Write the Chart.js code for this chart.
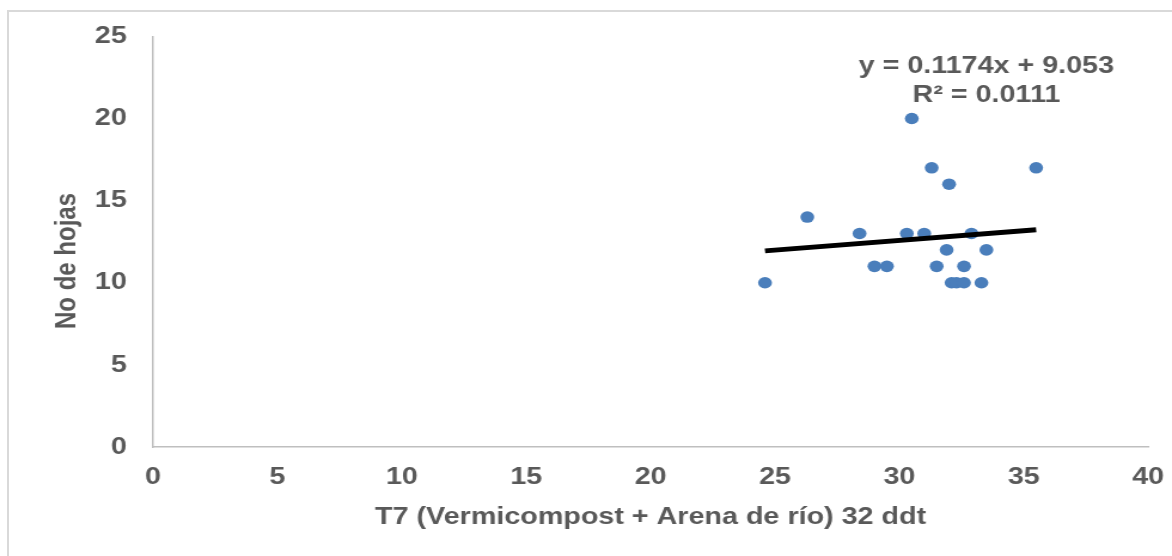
<!DOCTYPE html>
<html>
<head>
<meta charset="utf-8">
<script src="https://cdn.jsdelivr.net/npm/chart.js@4.4.0/dist/chart.umd.min.js"></script>
<style>
  html, body { margin: 0; padding: 0; background: #fff; overflow: hidden; }
  #wrap { position: relative; width: 1172px; height: 556px; overflow: hidden; }
  #graphicFirst { position: absolute; left: 0; top: 0; }
  #frame { position: absolute; left: 7px; top: 10px; width: 1200px; height: 600px;
           border-top: 2px solid #d9d9d9; border-left: 2px solid #d9d9d9; pointer-events: none; }
</style>
</head>
<body>
<div id="wrap">
  <!-- the original picture is stretched sideways, so the canvas is too -->
  <canvas id="graphicFirst" width="980" height="556" style="width:1172px;height:556px"></canvas>
  <div id="frame"></div>
</div>
<script>
// Dispersion No de hojas vs T7 32 ddt

// ---DATA
const valuesX = [24.6, 26.3, 28.4, 29.0, 29.5, 30.5, 30.3, 31.0, 31.3, 31.9, 31.5,
                 32.0, 32.1, 32.3, 32.6, 32.6, 32.9, 33.5, 33.3, 35.5];
const valuesY = [10, 14, 13, 11, 11, 20, 13, 13, 17, 12, 11,
                 16, 10, 10, 10, 11, 13, 12, 10, 17];
const trendSlope = 0.1174;
const trendIntercept = 9.053;
const eqLabels = ['y = 0.1174x + 9.053', 'R\u00b2 = 0.0111'];
const xTitle = 'T7 (Vermicompost + Arena de r\u00edo) 32 ddt';
const yTitle = 'No de hojas';

const textColor = '#595959';
const axisColor = '#bfbfbf';
const fontFam = "'Liberation Sans', Arial, sans-serif";

let points = valuesX.map((x, i) => ({x: x, y: valuesY[i]}));
let xMin = Math.min(...valuesX);
let xMax = Math.max(...valuesX);
let trendData = [
  {x: xMin, y: trendSlope * xMin + trendIntercept},
  {x: xMax, y: trendSlope * xMax + trendIntercept}
];

//---PLUGIN: y title + equation
const extraText = {
  id: 'extraText',
  afterDraw(chart){
    const ctx = chart.ctx;
    const sx = chart.scales.x, sy = chart.scales.y;
    ctx.save();
    ctx.fillStyle = textColor;
    ctx.font = 'bold 24px ' + fontFam;
    ctx.textAlign = 'center';
    ctx.textBaseline = 'middle';
    // equation of the trendline
    ctx.fillText(eqLabels[0], sx.getPixelForValue(33.5), sy.getPixelForValue(23.2));
    ctx.fillText(eqLabels[1], sx.getPixelForValue(33.5), sy.getPixelForValue(21.4));
    // y axis title
    ctx.translate(56, 261);
    ctx.rotate(-Math.PI / 2);
    ctx.fillText(yTitle, 0, 0);
    ctx.restore();
  }
};

let chart1;
function drawFirstElement(){
  var ctx = document.getElementById('graphicFirst').getContext('2d');
  if (chart1) {
    chart1.destroy();
  }
  chart1 = new Chart(ctx, {
    type: 'scatter',
    data: {
      datasets: [
        {
          type: 'line',
          data: trendData,
          borderColor: '#000000',
          borderWidth: 5,
          pointRadius: 0,
          fill: false,
          order: 0
        },
        {
          data: points,
          backgroundColor: '#4a7ebb',
          borderWidth: 0,
          pointRadius: 5.8,
          pointHoverRadius: 5.8,
          order: 1
        }
      ]
    },
    plugins: [extraText],
    options: {
      responsive: false,
      animation: false,
      devicePixelRatio: 1,
      layout: { padding: { left: 0, top: 34, right: 20, bottom: 0 } },
      plugins: { legend: { display: false }, tooltip: { enabled: false } },
      scales: {
        x: {
          type: 'linear',
          min: 0, max: 40,
          afterFit: (s) => { s.height = 109; s.paddingLeft = 0; s.paddingRight = 0; },
          grid: { color: 'rgba(0,0,0,0)', drawTicks: false },
          border: { display: true, color: axisColor, width: 1.5 },
          ticks: { stepSize: 5, padding: 16, color: textColor, maxRotation: 0,
                   font: { family: fontFam, size: 24, weight: 'bold' } },
          title: { display: true, text: xTitle, color: textColor,
                   padding: { top: 0, bottom: 24 },
                   font: { family: fontFam, size: 24, weight: 'bold' } }
        },
        y: {
          min: 0, max: 25,
          afterFit: (s) => { s.width = 128; },
          grid: { color: 'rgba(0,0,0,0)', drawTicks: false },
          border: { display: true, color: axisColor, width: 1.5 },
          ticks: { stepSize: 5, padding: 22, color: textColor,
                   font: { family: fontFam, size: 24, weight: 'bold' } }
        }
      }
    }
  });
}

window.onload = function(){
  drawFirstElement();
}
</script>
</body>
</html>
